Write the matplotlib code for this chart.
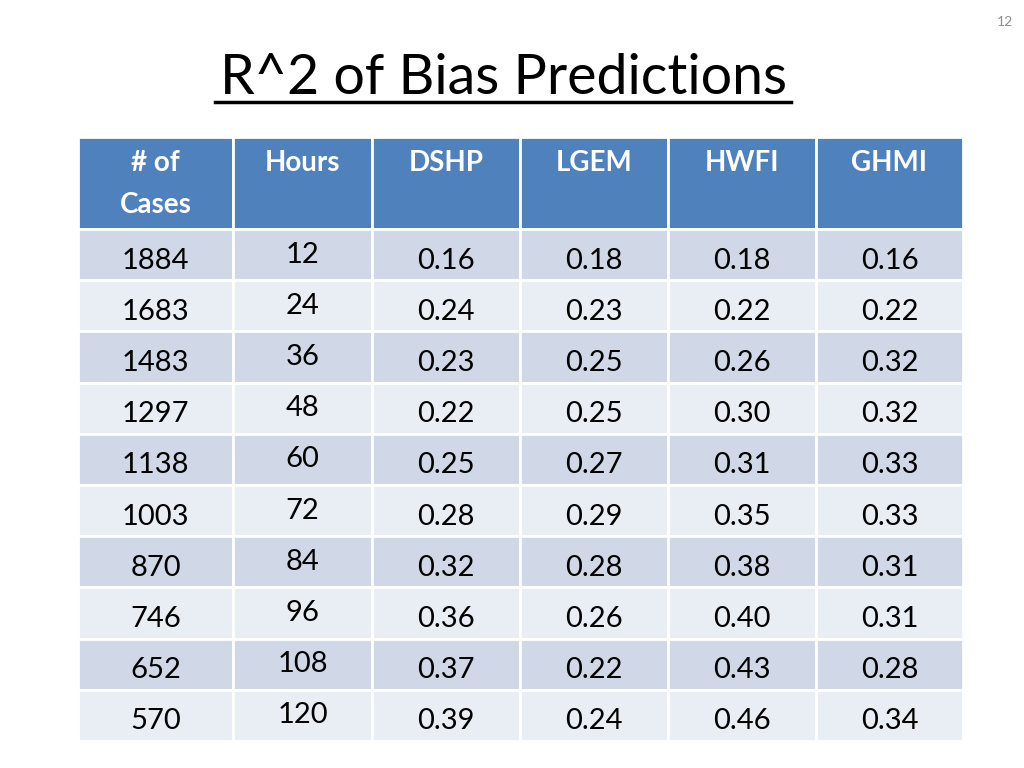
import matplotlib.pyplot as plt
from matplotlib.patches import Rectangle

# table contents
headers = ['# of\nCases', 'Hours', 'DSHP', 'LGEM', 'HWFI', 'GHMI']
cases = [1884, 1683, 1483, 1297, 1138, 1003, 870, 746, 652, 570]
hours = [12, 24, 36, 48, 60, 72, 84, 96, 108, 120]
dshp = [0.16, 0.24, 0.23, 0.22, 0.25, 0.28, 0.32, 0.36, 0.37, 0.39]
lgem = [0.18, 0.23, 0.25, 0.25, 0.27, 0.29, 0.28, 0.26, 0.22, 0.24]
hwfi = [0.18, 0.22, 0.26, 0.30, 0.31, 0.35, 0.38, 0.40, 0.43, 0.46]
ghmi = [0.16, 0.22, 0.32, 0.32, 0.33, 0.33, 0.31, 0.31, 0.28, 0.34]

plt.rcParams['font.family'] = ['Lato', 'DejaVu Sans']

fig = plt.figure(figsize=(10.24, 7.68), dpi=100)
ax = fig.add_axes([0, 0, 1, 1])
ax.set_xlim(0, 1024)
ax.set_ylim(768, 0)
ax.axis('off')

# column edges and row layout (pixels)
col_edges = [78, 233, 372, 520, 668, 816, 963]
head_top, head_bot = 137, 229
row_h = 51.2

header_color = '#4F81BD'
row_colors = ['#D0D8E8', '#E9EDF4']

# header
for i, h in enumerate(headers):
    x0, x1 = col_edges[i], col_edges[i + 1]
    ax.add_patch(Rectangle((x0, head_top), x1 - x0, head_bot - head_top,
                           facecolor=header_color, edgecolor='white', linewidth=2))
    ax.text((x0 + x1) / 2, 150, h, ha='center', va='top', color='white',
            fontsize=20, fontweight='bold', linespacing=1.75)

# body rows
for r in range(len(cases)):
    y0 = head_bot + r * row_h
    vals = [str(cases[r]), str(hours[r]), f'{dshp[r]:.2f}', f'{lgem[r]:.2f}',
            f'{hwfi[r]:.2f}', f'{ghmi[r]:.2f}']
    for c, v in enumerate(vals):
        x0, x1 = col_edges[c], col_edges[c + 1]
        ax.add_patch(Rectangle((x0, y0), x1 - x0, row_h,
                               facecolor=row_colors[r % 2], edgecolor='white', linewidth=2))
        yc = y0 + row_h / 2 + (0 if c == 1 else 6)
        ax.text((x0 + x1) / 2, yc, v, ha='center', va='center',
                color='black', fontsize=21)

# title with underline
ax.text(503, 79, 'R^2 of Bias Predictions', ha='center', va='center',
        fontsize=40, color='black')
ax.plot([215, 791], [102, 102], color='black', linewidth=2.5)

# page number
ax.text(1005, 22, '12', ha='center', va='center', fontsize=10, color='#8C8C8C')

fig.savefig('out.png', dpi=100)
